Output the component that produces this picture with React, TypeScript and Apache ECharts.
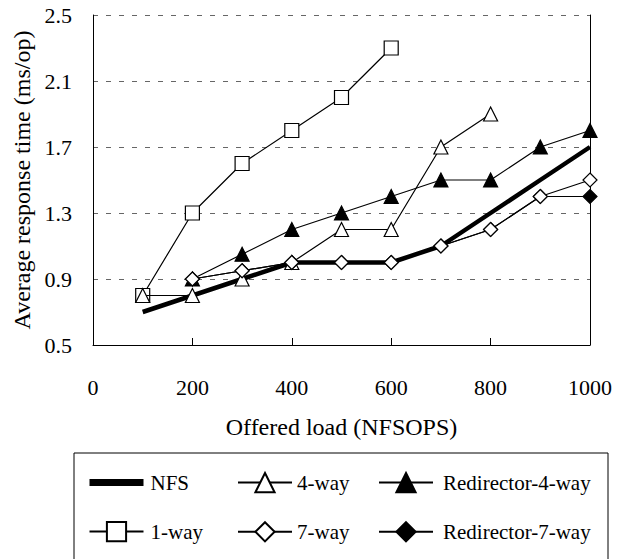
import React, { useEffect, useRef } from "react";
import * as echarts from "echarts";

const loads = [100, 200, 300, 400, 500, 600, 700, 800, 900, 1000];
const nfs = [0.7, 0.8, 0.9, 1.0, 1.0, 1.0, 1.1, 1.3, 1.5, 1.7];
const oneWay = [0.8, 1.3, 1.6, 1.8, 2.0, 2.3, null, null, null, null];
const fourWay = [0.8, 0.8, 0.9, 1.0, 1.2, 1.2, 1.7, 1.9, null, null];
const redirector4 = [null, 0.9, 1.05, 1.2, 1.3, 1.4, 1.5, 1.5, 1.7, 1.8];
const sevenWay = [null, 0.9, 0.95, 1.0, 1.0, 1.0, 1.1, 1.2, 1.4, 1.5];
const redirector7 = [null, 0.9, 0.95, 1.0, 1.0, 1.0, 1.1, 1.2, 1.4, 1.4];
const xTicks = { min: 0, max: 1000, interval: 200 };
const yTicks = { min: 0.5, max: 2.5, interval: 0.4 };

const FONT = "'Liberation Serif', 'Times New Roman', 'DejaVu Serif', serif";

function pairs(vals: (number | null)[]) {
  const out: [number, number][] = [];
  vals.forEach((v, i) => {
    if (v !== null) out.push([loads[i], v]);
  });
  return out;
}

function markerSeries(name: string, vals: (number | null)[], symbol: string, filled: boolean, z: number) {
  return {
    name,
    type: "line",
    data: pairs(vals),
    symbol,
    symbolSize: 14,
    showSymbol: true,
    z,
    lineStyle: { color: "#000", width: 1.2 },
    itemStyle: { color: filled ? "#000" : "#fff", borderColor: "#000", borderWidth: 1.2 },
    emphasis: { disabled: true },
  };
}

function legendCol(left: number, textPad: number, data: any[]) {
  return {
    orient: "vertical",
    left,
    top: 472,
    padding: 0,
    itemWidth: 54,
    itemHeight: 24,
    itemGap: 28,
    textStyle: { fontFamily: FONT, fontSize: 21, color: "#000", padding: [0, 0, 0, textPad] },
    selectedMode: false,
    data,
  };
}

export default function App() {
  const ref = useRef<HTMLDivElement>(null);
  useEffect(() => {
    document.body.style.margin = "0";
    const chart = echarts.init(ref.current!, undefined, { renderer: "svg" });
    chart.setOption({
      animation: false,
      textStyle: { fontFamily: FONT },
      grid: { left: 93, right: 28, top: 15, bottom: 214, containLabel: false },
      xAxis: {
        type: "value",
        ...xTicks,
        name: "Offered load (NFSOPS)",
        nameLocation: "middle",
        nameGap: 70,
        nameTextStyle: { fontFamily: FONT, fontSize: 24, color: "#000" },
        axisLine: { show: true, lineStyle: { color: "#000", width: 1 } },
        axisTick: { show: true, inside: true, length: 7, lineStyle: { color: "#000" } },
        axisLabel: {
          fontFamily: FONT,
          fontSize: 22,
          color: "#000",
          margin: 31,
          formatter: (v: number) => String(v),
        },
        splitLine: { show: false },
      },
      yAxis: [
        {
          type: "value",
          ...yTicks,
          name: "Average response time (ms/op)",
          nameLocation: "middle",
          nameGap: 59,
          nameTextStyle: { fontFamily: FONT, fontSize: 24, color: "#000" },
          axisLine: { show: true, lineStyle: { color: "#000", width: 1 } },
          axisTick: { show: false },
          axisLabel: {
            fontFamily: FONT,
            fontSize: 22,
            color: "#000",
            margin: 21,
            padding: [6, 0, 0, 0],
            formatter: (v: number) => v.toFixed(1),
          },
          splitLine: { show: true, lineStyle: { color: "#666", width: 1, type: [5, 8] } },
        },
        {
          type: "value",
          ...yTicks,
          position: "right",
          axisLine: { show: true, lineStyle: { color: "#000", width: 1 } },
          axisTick: { show: false },
          axisLabel: { show: false },
          splitLine: { show: false },
        },
      ],
      legend: [
        legendCol(86, 2, [
          { name: "NFS", itemStyle: { color: "transparent", borderColor: "transparent", borderWidth: 0 }, lineStyle: { width: 7 } },
          "1-way",
        ]),
        legendCol(237, 0, ["4-way", "7-way"]),
        legendCol(378, 5, ["Redirector-4-way", "Redirector-7-way"]),
      ],
      graphic: [
        {
          type: "rect",
          shape: { x: 74, y: 453, width: 534, height: 120 },
          style: { fill: "none", stroke: "#000", lineWidth: 1 },
          z: -1,
        },
      ],
      series: [
        {
          name: "NFS",
          type: "line",
          data: pairs(nfs),
          symbol: "circle",
          symbolSize: 0,
          showSymbol: false,
          z: 1,
          lineStyle: { color: "#000", width: 4.5 },
          itemStyle: { color: "#000" },
          emphasis: { disabled: true },
        },
        markerSeries("1-way", oneWay, "rect", false, 2),
        markerSeries("Redirector-4-way", redirector4, "triangle", true, 3),
        markerSeries("4-way", fourWay, "triangle", false, 4),
        markerSeries("Redirector-7-way", redirector7, "diamond", true, 5),
        markerSeries("7-way", sevenWay, "diamond", false, 6),
      ],
    });
    return () => chart.dispose();
  }, []);
  return <div ref={ref} style={{ width: 618, height: 559 }} />;
}
